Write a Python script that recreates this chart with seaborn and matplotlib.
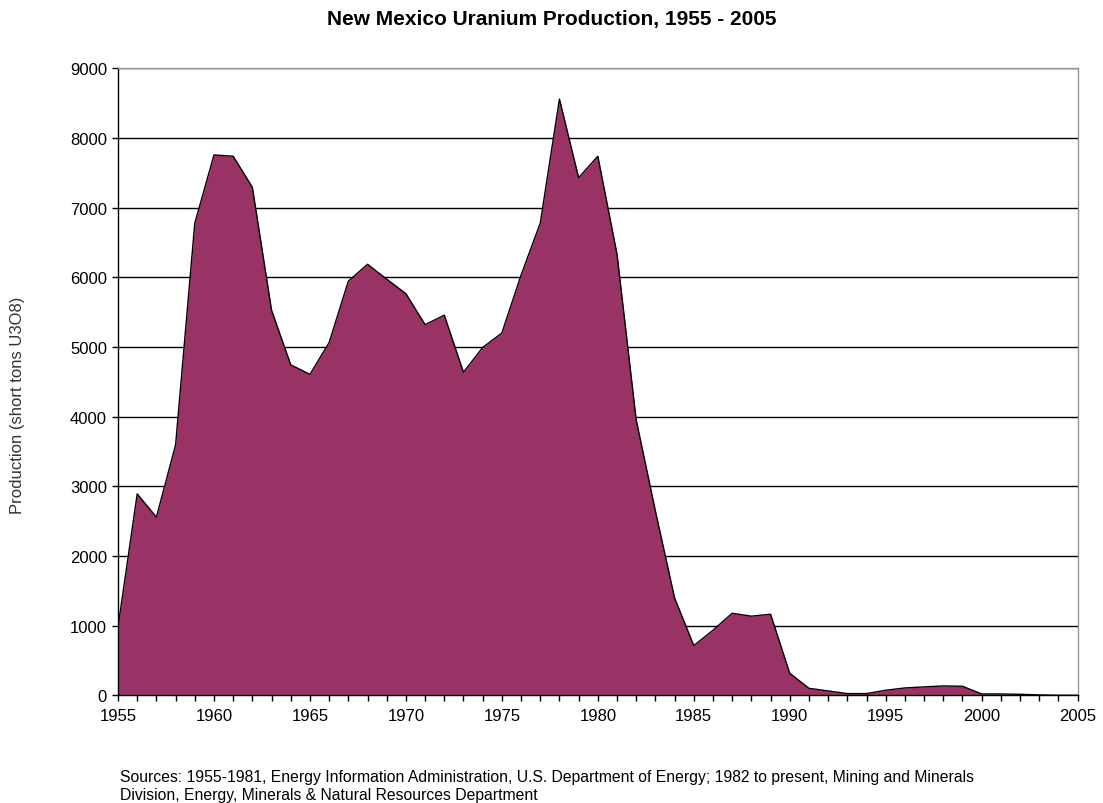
import matplotlib
matplotlib.use("Agg")
import matplotlib.pyplot as plt
import seaborn as sns
import pandas as pd

# New Mexico uranium production (short tons U3O8)
years = list(range(1955, 2006))
production = [
    980, 2890, 2555, 3595, 6775, 7754, 7736, 7290, 5526, 4742,
    4605, 5062, 5942, 6185, 5971, 5763, 5318, 5455, 4635, 4991,
    5199, 6030, 6774, 8556, 7427, 7736, 6330, 3951, 2644, 1396,
    713, 933, 1177, 1135, 1163, 316, 100, 62, 24, 24,
    72, 105, 120, 134, 129, 19, 19, 14, 5, 0,
    0,
]

df = pd.DataFrame({"Year": years, "Production": production})

sns.set_style("white")
plt.rcParams["font.family"] = ["Liberation Sans", "DejaVu Sans"]
plt.rcParams["text.color"] = "black"
plt.rcParams["xtick.color"] = "black"
plt.rcParams["ytick.color"] = "black"

fig = plt.figure(figsize=(11.03, 8.04), dpi=100)
ax = fig.add_axes([0.107, 0.134, 0.870, 0.780])

# area fill + outline
ax.fill_between(df["Year"], df["Production"], 0, color="#993366", zorder=2, linewidth=0)
sns.lineplot(data=df, x="Year", y="Production", color="black", linewidth=1.0, ax=ax, zorder=3)

ax.set_xlim(1955, 2005)
ax.set_ylim(0, 9000)
ax.set_xticks(range(1955, 2006, 5))
ax.set_xticks(range(1955, 2006), minor=True)
ax.set_yticks(range(0, 9001, 1000))

# horizontal gridlines behind the area
for v in range(1000, 9001, 1000):
    ax.axhline(v, color="black", linewidth=1.0, zorder=1)

for s in ["left", "bottom"]:
    ax.spines[s].set_color("black")
    ax.spines[s].set_linewidth(1.0)
for s in ["top", "right"]:
    ax.spines[s].set_color("#999999")
    ax.spines[s].set_linewidth(1.0)

ax.tick_params(axis="both", which="both", direction="out", color="black",
               bottom=True, left=True, labelsize=12, length=4, width=1.0)
ax.tick_params(axis="x", pad=5)
ax.tick_params(axis="y", pad=4)

ax.set_xlabel("")
ax.set_ylabel("")
fig.text(18 / 1103, 1 - 405 / 804, "Production (short tons U3O8)", rotation=90,
         fontsize=12, color="#333333", ha="center", va="center")

fig.suptitle("New Mexico Uranium Production, 1955 - 2005", fontsize=15,
             fontweight="bold", y=1 - 10 / 804, va="top")

fig.text(120 / 1103, 1 - 803 / 804,
         "Sources: 1955-1981, Energy Information Administration, U.S. Department of Energy; "
         "1982 to present, Mining and Minerals\nDivision, Energy, Minerals & Natural Resources Department",
         fontsize=11.3, ha="left", va="bottom", linespacing=1.25)

plt.savefig("out.png", dpi=100)
